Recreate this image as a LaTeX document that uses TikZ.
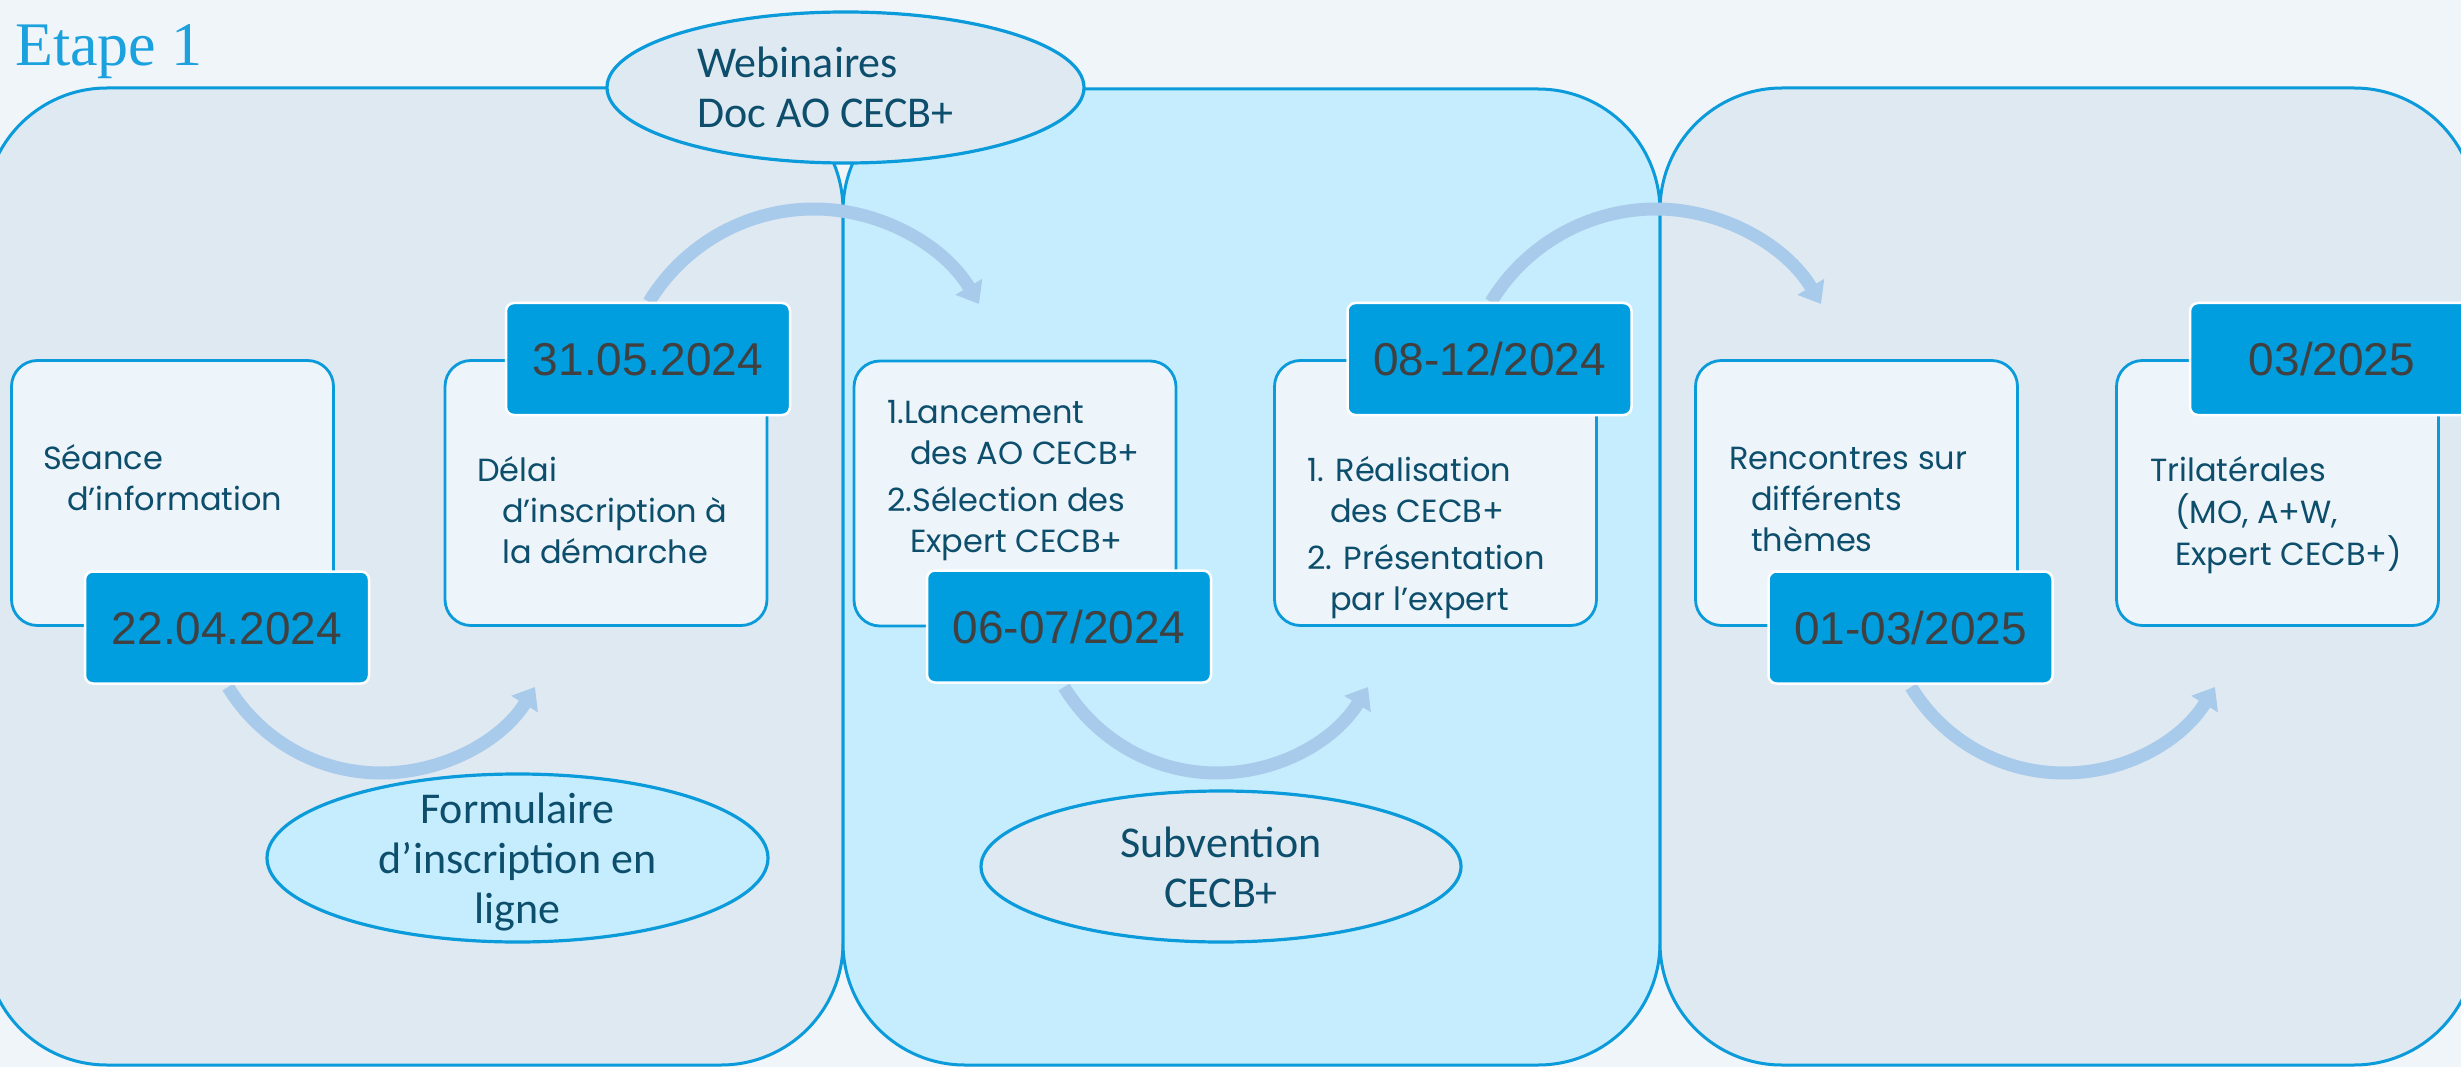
\documentclass[tikz,border=0pt]{standalone}
\usepackage{fontspec}
\setmainfont{Poppins}
\newfontfamily\datefont{Liberation Sans}
\newfontfamily\ellfont{Carlito}
\newfontfamily\titlefont{Liberation Serif}
\usetikzlibrary{shapes.geometric,arrows.meta}
\definecolor{bgc}{HTML}{EFF5F9}
\definecolor{panelgrey}{HTML}{DFE9F2}
\definecolor{panelcyan}{HTML}{C6EDFD}
\definecolor{boxfill}{HTML}{EDF4FA}
\definecolor{lineblue}{HTML}{0B9BDB}
\definecolor{datefill}{HTML}{009DDF}
\definecolor{datetext}{HTML}{404040}
\definecolor{arrowc}{HTML}{A9CBEB}
\definecolor{tealtext}{HTML}{0C4E6B}
\definecolor{titleblue}{HTML}{1BA1DE}
\tikzset{
 panel/.style={draw=lineblue, line width=3pt, rounded corners=122pt},
 box/.style={draw=lineblue, fill=boxfill, line width=2.8pt, rounded corners=26pt, minimum width=322pt, minimum height=265pt, inner sep=0pt},
 datebox/.style={draw=white, fill=datefill, line width=2.5pt, rounded corners=8pt, minimum width=284pt, minimum height=112pt, inner sep=0pt, text=datetext, font=\datefont\fontsize{46}{50}\selectfont, text height=33pt, text depth=0pt},
 bubble/.style={ellipse, draw=lineblue, line width=3.2pt, inner sep=0pt},
 btext/.style={text=tealtext, inner sep=0pt, anchor=base west, font=\fontsize{32}{41}\selectfont},
 etext/.style={text=tealtext, inner sep=0pt, anchor=base, font=\ellfont\fontsize{44}{50}\selectfont},
 arr/.style={draw=arrowc, line width=13pt, -{Triangle[width=30pt,length=20pt]}},
}
\begin{document}
\begin{tikzpicture}[x=1pt,y=-1pt]
\useasboundingbox (0,0) rectangle (2461,1067);
\clip (0,0) rectangle (2461,1067);
\fill[bgc] (0,0) rectangle (2461,1067);
% panels
\draw[panel, fill=panelgrey] (-15,88) rectangle (843,1065);
\draw[panel, fill=panelcyan] (843,89) rectangle (1660,1065);
\draw[panel, fill=panelgrey] (1660,88) rectangle (2476,1065);
% title
\node[text=titleblue, inner sep=0pt, anchor=base west, font=\titlefont\fontsize{62}{64}\selectfont] (title) at (15,66) {Etape 1};
% top bubble
\node[bubble, fill=panelgrey, minimum width=477pt, minimum height=151pt] (webi) at (845.5,87.5) {};
\node[text=tealtext, inner sep=0pt, anchor=base west, font=\ellfont\fontsize{44}{50}\selectfont] (webiT) at (697,78) {\begin{tabular}[t]{@{}l@{}}Webinaires\\Doc AO CECB+\end{tabular}};
% arrows
\coordinate (a1s) at (228,687); \coordinate (a1e) at (535,687);
\coordinate (a3s) at (1064,687); \coordinate (a3e) at (1368,687);
\coordinate (a5s) at (1911,687); \coordinate (a5e) at (2215,687);
\coordinate (a2s) at (649,302); \coordinate (a2e) at (979,304);
\coordinate (a4s) at (1491,302); \coordinate (a4e) at (1821,304);
\foreach \s/\e in {a1s/a1e,a3s/a3e,a5s/a5e}{
  \draw[arr] (\s) .. controls +(32.7,53.5) and +(-62.7,0) .. ++(153,86) .. controls +(62.7,0) and +(-32.9,53.4) .. (\e);
}
\foreach \s/\e in {a2s/a2e,a4s/a4e}{
  \draw[arr] (\s) .. controls +(35,-57.7) and +(-67.5,0) .. ++(165,-93) .. controls +(67.5,0) and +(-34.5,-58) .. (\e);
}
% boxes
\node[box] (b1) at (172.5,493) {};
\node[box] (b2) at (606,493) {};
\node[box] (b3) at (1015,493.5) {};
\node[box] (b4) at (1435.5,493) {};
\node[box] (b5) at (1856.5,493) {};
\node[box] (b6) at (2277.5,493) {};
% box texts
\node[btext] (t1) at (43,469) {\begin{tabular}[t]{@{}l@{}}Séance\\\hspace*{24pt}d’information\end{tabular}};
\node[btext] (t2) at (477,481) {\begin{tabular}[t]{@{}l@{}}Délai\\\hspace*{25pt}d’inscription à\\\hspace*{25pt}la démarche\end{tabular}};
\node[btext] (t3) at (887,423) {\begin{tabular}[t]{@{}l@{}}1.Lancement\\\hspace*{23pt}des AO CECB+\\[6pt]2.Sélection des\\\hspace*{23pt}Expert CECB+\end{tabular}};
\node[btext] (t4) at (1307,481) {\begin{tabular}[t]{@{}l@{}}1. Réalisation\\\hspace*{23pt}des CECB+\\[6pt]2. Présentation\\\hspace*{23pt}par l’expert\end{tabular}};
\node[btext] (t5) at (1729,469) {\begin{tabular}[t]{@{}l@{}}Rencontres sur\\\hspace*{22pt}différents\\\hspace*{22pt}thèmes\end{tabular}};
\node[btext] (t6) at (2150,481) {\begin{tabular}[t]{@{}l@{}}Trilatérales\\\hspace*{25pt}(MO, A+W,\\\hspace*{25pt}Expert CECB+)\end{tabular}};
% date boxes
\node[datebox] (d1) at (227,627.5) {22.04.2024};
\node[datebox] (d2) at (648,359) {31.05.2024};
\node[datebox] (d3) at (1069,626.5) {06-07/2024};
\node[datebox] (d4) at (1489.5,359) {08-12/2024};
\node[datebox] (d5) at (1910.5,627.5) {01-03/2025};
\node[datebox] (d6) at (2332,359) {03/2025};
% bottom bubbles
\node[bubble, fill=panelcyan, minimum width=501pt, minimum height=168pt] (form) at (517.5,858) {};
\node[etext] (formT) at (517.5,823) {\begin{tabular}[t]{@{}c@{}}Formulaire\\d’inscription en\\ligne\end{tabular}};
\node[bubble, fill=panelgrey, minimum width=480pt, minimum height=151pt] (subv) at (1221,866.5) {};
\node[etext] (subvT) at (1221,857) {\begin{tabular}[t]{@{}c@{}}Subvention\\CECB+\end{tabular}};
\end{tikzpicture}
\end{document}
